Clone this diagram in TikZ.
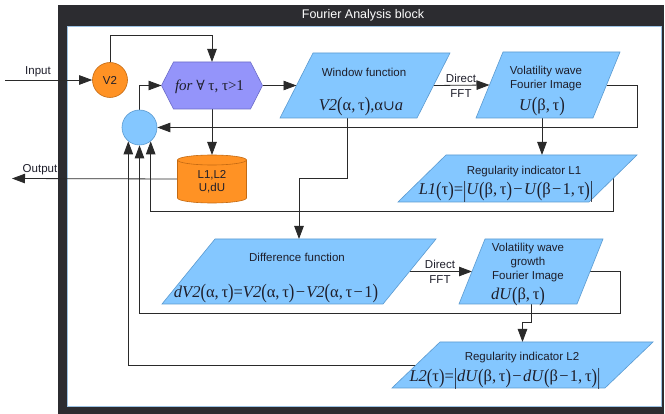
\documentclass[tikz,border=0pt]{standalone}
\usepackage{graphicx}
\usepackage{fontspec}
\setmainfont{Liberation Sans}
\newfontfamily\mfont{Liberation Serif}
\newfontfamily\symfont{DejaVu Serif}
\usetikzlibrary{arrows.meta,calc}
\definecolor{frm}{HTML}{2C2C30}
\definecolor{org}{HTML}{FF9224}
\definecolor{orgd}{HTML}{C46A12}
\definecolor{lb}{HTML}{84C7FF}
\definecolor{lbd}{HTML}{5A9AD0}
\definecolor{pur}{HTML}{9494FA}
\definecolor{purd}{HTML}{6C6CC8}
\definecolor{wirec}{HTML}{2A2A2A}
\definecolor{txc}{HTML}{1E1E2A}
\newcommand{\lpa}{\raisebox{-0.1em}{\scalebox{1}[1.25]{(}}}
\newcommand{\rpa}{\raisebox{-0.1em}{\scalebox{1}[1.25]{)}}}
\newcommand{\vb}{\raisebox{-0.18em}{\scalebox{1}[1.4]{|}}}
\newcommand{\mns}{\hspace{0.08em}−\hspace{0.08em}}
\newcommand{\pgram}[2]{\filldraw[fill=lb, draw=lbd, line width=0.6pt] ([xshift=#2pt]#1.north west) -- (#1.north east) -- ([xshift=-#2pt]#1.south east) -- (#1.south west) -- cycle;}
\pgfdeclarelayer{back}
\pgfdeclarelayer{wires}
\pgfsetlayers{back,wires,main}
\begin{document}
\begin{tikzpicture}[x=1pt,y=-1pt,
  arr/.style={draw=wirec, line width=0.8pt, -{Triangle[length=13pt,width=9.5pt]}},
  txt/.style={inner sep=0pt, align=center, font=\fontsize{11.5}{14.5}\selectfont, text=txc},
  fml/.style={inner sep=0pt, font=\mfont\fontsize{16.5}{19}\selectfont, text=txc},
  holder/.style={inner sep=0pt, outer sep=0pt}
]
\useasboundingbox (0,0) rectangle (665,414);
% frame
\begin{pgfonlayer}{back}
\fill[frm] (58,5) rectangle (664,414);
\fill[white] (67,26) rectangle (661,406);
\draw[color=lbd!60, line width=0.6pt] (67,26) rectangle (661,406);
\end{pgfonlayer}
\node[txt, text=white, font=\fontsize{12.5}{15}\selectfont] (title) at (363,15) {Fourier Analysis block};

% shapes
\node[circle, fill=org, draw=orgd, line width=0.6pt, minimum size=35pt, inner sep=0pt, font=\fontsize{11.5}{14}\selectfont, text=txc] (v2) at (110,80) {V2};
\node[circle, fill=lb, draw=lbd, line width=0.6pt, minimum size=35pt, inner sep=0pt] (sc) at (139.5,127.5) {};

\node[holder, minimum width=101pt, minimum height=47pt] (hex) at (212,85.5) {};
\filldraw[fill=pur, draw=purd, line width=0.6pt] (hex.west) -- ([xshift=12pt]hex.north west) -- ([xshift=-12pt]hex.north east) -- (hex.east) -- ([xshift=-12pt]hex.south east) -- ([xshift=12pt]hex.south west) -- cycle;
\node[fml, font=\mfont\fontsize{15}{18}\selectfont] (hext) at (209.5,87) {\itshape for {\upshape\symfont\fontsize{14}{16}\selectfont ∀} {\upshape τ, τ>1}};

\node[holder, minimum width=69pt, minimum height=48pt] (cyl) at (212,179) {};
\fill[org] ([yshift=-5pt]cyl.north west) -- ([yshift=5pt]cyl.south west) arc[start angle=180, end angle=360, x radius=34.5pt, y radius=5pt] -- ([yshift=-5pt]cyl.north east) arc[start angle=0, end angle=180, x radius=34.5pt, y radius=5pt] -- cycle;
\draw[orgd, line width=0.6pt] ([yshift=-5pt]cyl.north west) -- ([yshift=5pt]cyl.south west) arc[start angle=180, end angle=360, x radius=34.5pt, y radius=5pt] -- ([yshift=-5pt]cyl.north east);
\draw[orgd, line width=0.6pt] ([yshift=-5pt]cyl.north) ellipse[x radius=34.5pt, y radius=5pt];
\node[txt, font=\fontsize{11.5}{13}\selectfont] (cylt) at (212,182) {L1,L2\\U,dU};

\node[holder, minimum width=170pt, minimum height=65pt] (wf) at (365,85.5) {};
\pgram{wf}{33}
\node[txt] (wft) at (364,72) {Window function};
\node[fml] (wff) at (361,107) {\textit{V2}\lpa α,\,τ\rpa,α{\symfont\fontsize{14}{16}\selectfont ∪}\textit{a}};

\node[holder, minimum width=144pt, minimum height=66pt] (vw) at (548,85) {};
\pgram{vw}{27}
\node[txt] (vwt) at (546,78.5) {Volatility wave\\Fourier Image};
\node[fml] (vwf) at (542,107) {\textit{U}\lpa β,\,τ\rpa};

\node[holder, minimum width=239pt, minimum height=47pt] (l1) at (517.5,178.5) {};
\pgram{l1}{48}
\node[txt] (l1t) at (524,171.5) {Regularity indicator L1};
\node[fml] (l1f) at (506,192) {\textit{L1}\lpa τ\rpa=\vb\textit{U}\lpa β,\,τ\rpa\mns\textit{U}\lpa β\mns1,\,τ\rpa\vb};

\node[holder, minimum width=274pt, minimum height=65pt] (df) at (299,271.5) {};
\pgram{df}{53}
\node[txt] (dft) at (297,257) {Difference function};
\node[fml] (dff) at (276,294) {\textit{dV2}\lpa α,\,τ\rpa=\textit{V2}\lpa α,\,τ\rpa\mns\textit{V2}\lpa α,\,τ\mns1\rpa};

\node[holder, minimum width=144pt, minimum height=65pt] (du) at (531,271.5) {};
\pgram{du}{26}
\node[txt, font=\fontsize{11.5}{14}\selectfont] (dut) at (528,262.5) {Volatility wave\\growth\\Fourier Image};
\node[fml] (duf) at (518,296.5) {\textit{dU}\lpa β,\,τ\rpa};

\node[holder, minimum width=261pt, minimum height=46pt] (l2) at (522.5,365) {};
\pgram{l2}{48}
\node[txt] (l2t) at (522,357.5) {Regularity indicator L2};
\node[fml] (l2f) at (505,379) {\textit{L2}\lpa τ\rpa=\vb\textit{dU}\lpa β,\,τ\rpa\mns\textit{dU}\lpa β\mns1,\,τ\rpa\vb};

% labels
\node[txt] (inl) at (38,72) {Input};
\node[txt] (outl) at (40,170) {Output};
\node[txt, font=\fontsize{11.5}{15}\selectfont] (fft1) at (461,85.5) {Direct\\FFT};
\node[txt, font=\fontsize{11.5}{15}\selectfont] (fft2) at (440,272) {Direct\\FFT};

% connectors
\coordinate (inp) at (5,80);
\coordinate (outp) at (12,178.5);
\coordinate (r0) at (212,35);
\coordinate (r1) at (637,85);
\coordinate (r2) at (613,211);
\coordinate (r3) at (620,313);
\coordinate (r4) at (347,178);
\coordinate (r5) at (532,322);
\begin{pgfonlayer}{wires}
\draw[arr] (inp) -- (v2);
\draw[arr] (v2.north) |- (r0) -- (hex.north);
\draw[arr] (sc.north) |- (hex.west);
\draw[arr] (hex.east) -- ([xshift=16.5pt]wf.west);
\draw[arr] (hex.south) -- (cyl.north);
\draw[arr] (cyl.west) -- (outp);
\draw[arr] ([xshift=-16.5pt]wf.east) -- ([xshift=13.5pt]vw.west);
\draw[arr] ([xshift=-6pt]vw.south) -- ([xshift=-6pt]vw.south |- l1.north);
\draw[arr] ([xshift=-13.5pt]vw.east) -- (r1) |- (sc.east);
\draw[arr] ([xshift=-24pt]l1.east) -- ([xshift=-24pt]l1.east |- r2) -| (sc.-51);
\draw[arr] (wf.south -| r4) -- (r4) -| (df.north);
\draw[arr] ([xshift=-26.5pt]df.east) -- ([xshift=13pt]du.west);
\draw[arr] ([xshift=-13pt]du.east) -| (r3) -| (sc.south);
\draw[arr] (du.south) -- (du.south |- r5) -| (l2.north);
\draw[arr] ([xshift=24pt]l2.west) -| (sc.-129);
\end{pgfonlayer}
\end{tikzpicture}
\end{document}
